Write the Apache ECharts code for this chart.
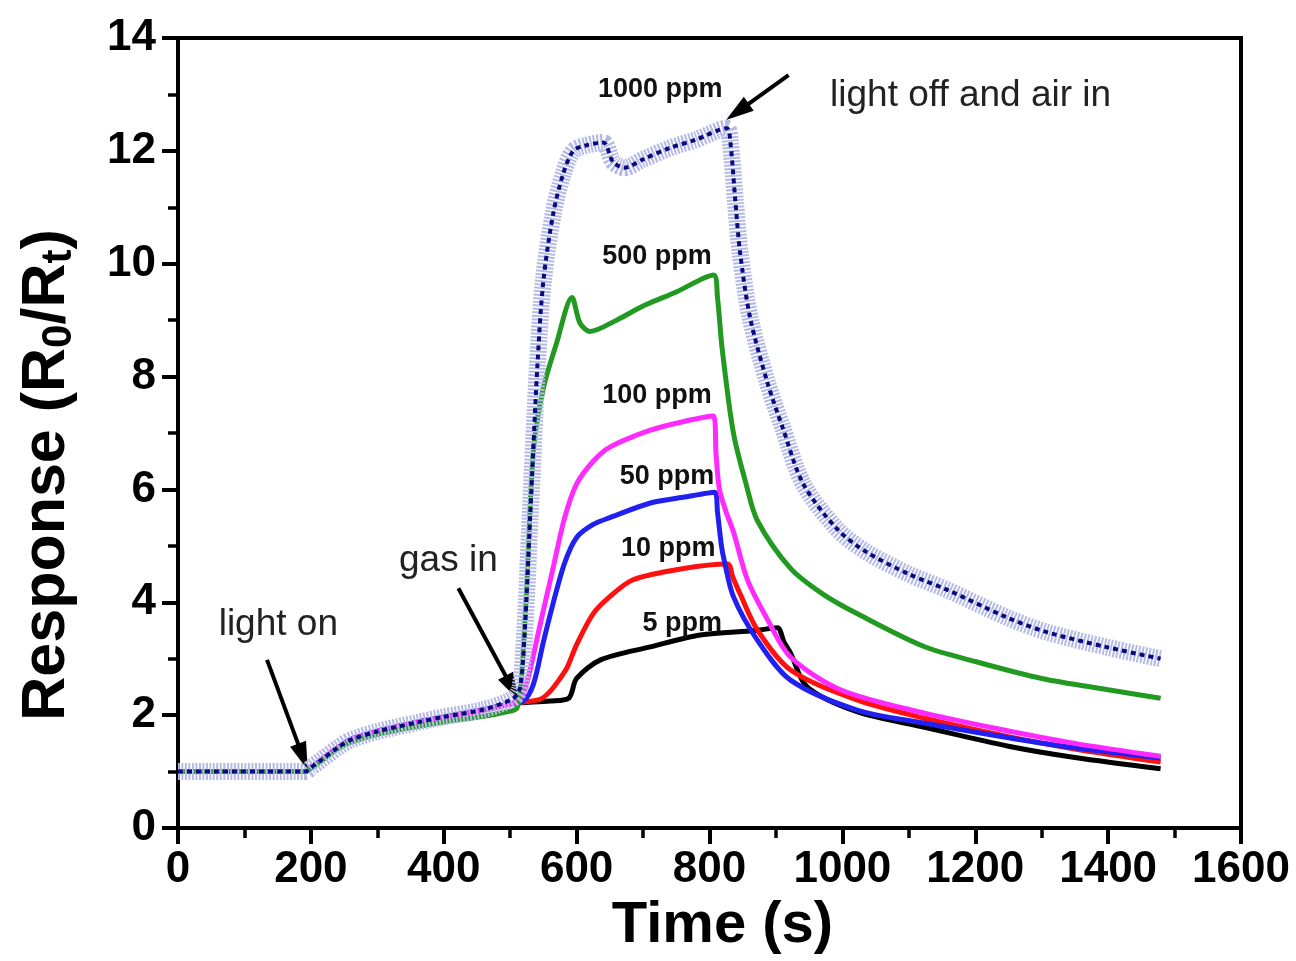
<!DOCTYPE html>
<html><head><meta charset="utf-8">
<script src="https://cdn.jsdelivr.net/npm/echarts@6/dist/echarts.min.js"></script>
<style>html,body{margin:0;padding:0;background:#fff}#c{width:1296px;height:961px}</style>
</head><body><div id="c"></div>
<script>
// ---- tick labels ----
const xTicks = [0,200,400,600,800,1000,1200,1400,1600];
const yTicks = [0,2,4,6,8,10,12,14];

// ---- series data: [time (s), response] ----
const ppm5 = [[0,1.0],[192,1.0],[200,1.07],[215,1.2],[240,1.42],[260,1.56],[300,1.71],[360,1.87],[400,1.96],[460,2.09],[500,2.2],[560,2.25],[588,2.3],[600,2.65],[636,2.98],[711,3.21],[786,3.42],[870,3.5],[902,3.55],[912,3.3],[922,3.1],[947,2.5],[1022,2.06],[1122,1.79],[1250,1.45],[1350,1.25],[1479,1.05]];
const ppm10 = [[0,1.0],[192,1.0],[200,1.07],[215,1.2],[240,1.42],[260,1.56],[300,1.71],[360,1.87],[400,1.96],[460,2.09],[500,2.2],[545,2.28],[560,2.42],[575,2.65],[586,2.85],[600,3.25],[625,3.8],[650,4.1],[685,4.4],[761,4.6],[827,4.68],[835,4.45],[846,4.15],[872,3.51],[922,2.8],[1022,2.27],[1122,1.95],[1250,1.62],[1350,1.4],[1479,1.17]];
const ppm50 = [[0,1.0],[192,1.0],[200,1.07],[215,1.2],[240,1.42],[260,1.57],[300,1.72],[360,1.88],[400,1.97],[460,2.1],[500,2.2],[520,2.25],[535,2.55],[550,3.3],[565,4.0],[582,4.7],[600,5.15],[625,5.38],[650,5.5],[711,5.76],[760,5.86],[808,5.95],[812,5.6],[818,5.0],[822,4.75],[836,4.1],[872,3.33],[922,2.62],[1022,2.09],[1122,1.86],[1250,1.6],[1350,1.42],[1479,1.24]];
const ppm100 = [[0,1.0],[192,1.0],[200,1.07],[215,1.2],[240,1.42],[260,1.56],[300,1.71],[360,1.87],[400,1.96],[460,2.09],[500,2.2],[515,2.3],[525,2.57],[545,3.6],[565,4.63],[582,5.5],[600,6.1],[625,6.5],[650,6.75],[711,7.05],[760,7.2],[806,7.3],[810,6.6],[815,6.0],[825,5.6],[836,5.25],[857,4.4],[887,3.7],[922,3.03],[997,2.45],[1122,2.04],[1250,1.72],[1350,1.5],[1479,1.27]];
const ppm500 = [[0,1.0],[192,1.0],[200,1.06],[215,1.18],[240,1.4],[260,1.52],[300,1.66],[360,1.8],[400,1.88],[460,1.98],[495,2.06],[510,2.12],[516,2.5],[525,4.3],[535,6.7],[550,7.8],[570,8.6],[593,9.4],[605,8.95],[620,8.8],[660,9.0],[700,9.25],[750,9.5],[806,9.8],[812,9.4],[819,8.5],[836,7.0],[855,6.1],[872,5.45],[922,4.6],[970,4.15],[1022,3.8],[1122,3.22],[1200,2.95],[1300,2.65],[1400,2.45],[1479,2.3]];
const ppm1000 = [[0,1.0],[192,1.0],[200,1.07],[215,1.2],[240,1.42],[260,1.56],[300,1.71],[360,1.87],[400,1.97],[460,2.1],[505,2.3],[515,2.5],[522,3.5],[530,5.5],[541,8.2],[550,9.7],[565,10.9],[580,11.6],[595,12.0],[615,12.1],[640,12.15],[655,11.8],[672,11.7],[700,11.85],[740,12.05],[780,12.2],[826,12.4],[831,12.2],[839,11.1],[846,10.2],[861,9.05],[887,7.9],[910,7.1],[941,6.1],[992,5.3],[1035,4.9],[1100,4.5],[1158,4.22],[1250,3.72],[1308,3.47],[1400,3.2],[1479,3.0]];

// ---- annotations (data-space anchors) ----
const labelTexts = ['1000 ppm','500 ppm','100 ppm','50 ppm','10 ppm','5 ppm'];
const labelAnchors = [[726,13.08],[721,10.12],[721,7.66],[736,6.22],[738,4.96],[759,3.63]];
const noteTexts = ['light off and air in','gas in','light on'];
const noteAnchors = [[1193,12.97],[407,4.73],[151,3.6]];
const arrows = [[[919,13.34],[842,12.69]],[[422,4.25],[503,2.48]],[[134,2.98],[188,1.26]]];

const FF = '"Liberation Sans", Arial, sans-serif';
const SMOOTH = 0.3;
const chart = echarts.init(document.getElementById('c'), null, {renderer:'canvas'});

function lineSeries(name, data, color, z){
  return {name, type:'line', data, z, showSymbol:false, smooth:SMOOTH, clip:false,
    lineStyle:{color, width:5}, itemStyle:{color}, emphasis:{disabled:true}, silent:true};
}

const markPointData = [];
labelTexts.forEach((t,i)=>markPointData.push({coord:labelAnchors[i],
  label:{formatter:t, fontSize:27, fontWeight:'bold', color:'#111', fontFamily:FF}}));
noteTexts.forEach((t,i)=>markPointData.push({coord:noteAnchors[i],
  label:{formatter:t, fontSize:37, fontWeight:'normal', color:'#222', fontFamily:FF}}));

const black = lineSeries('5 ppm', ppm5, '#000000', 3);
black.markPoint = {symbol:'rect', symbolSize:1, itemStyle:{color:'rgba(0,0,0,0)'}, silent:true,
  label:{show:true, position:'inside'}, data: markPointData};
black.markLine = {symbol:['none','triangle'], symbolSize:[17,28], silent:true,
  lineStyle:{color:'#000', width:4, type:'solid'}, label:{show:false},
  data: arrows.map(a=>[{coord:a[0]},{coord:a[1]}])};

const plainNum = v => String(v);

const option = {
  animation:false,
  backgroundColor:'#fff',
  grid:{left:178, right:55, top:38, bottom:133, show:true, borderColor:'#000', borderWidth:4, backgroundColor:'transparent'},
  xAxis:{type:'value', min:xTicks[0], max:xTicks[xTicks.length-1], interval:xTicks[1]-xTicks[0],
    name:'Time (s)', nameLocation:'middle', nameGap:58,
    nameTextStyle:{fontSize:58, fontWeight:'bold', color:'#000', fontFamily:FF, padding:[0,0,0,26]},
    axisLine:{show:true, lineStyle:{color:'#000', width:4}},
    axisTick:{show:true, length:16, lineStyle:{width:4, color:'#000'}},
    minorTick:{show:true, splitNumber:2, length:10, lineStyle:{width:3.5, color:'#000'}},
    splitLine:{show:false}, minorSplitLine:{show:false},
    axisLabel:{fontSize:44, fontWeight:'bold', color:'#000', margin:20, fontFamily:FF, formatter:plainNum}},
  yAxis:{type:'value', min:yTicks[0], max:yTicks[yTicks.length-1], interval:yTicks[1]-yTicks[0],
    name:'{a|Response (R}{s|0}{a|/R}{s|t}{a|)}', nameLocation:'middle', nameGap:98, nameRotate:90,
    nameTextStyle:{padding:[0,84,0,0], rich:{
      a:{fontSize:61, fontWeight:'bold', color:'#000', fontFamily:FF, lineHeight:66},
      s:{fontSize:42, fontWeight:'bold', color:'#000', fontFamily:FF, lineHeight:40, verticalAlign:'bottom'}}},
    axisLine:{show:true, lineStyle:{color:'#000', width:4}},
    axisTick:{show:true, length:16, lineStyle:{width:4, color:'#000'}},
    minorTick:{show:true, splitNumber:2, length:10, lineStyle:{width:3.5, color:'#000'}},
    splitLine:{show:false}, minorSplitLine:{show:false},
    axisLabel:{fontSize:44, fontWeight:'bold', color:'#000', margin:22, fontFamily:FF, formatter:plainNum}},
  series:[
    black,
    lineSeries('10 ppm', ppm10, '#ff1010', 4),
    lineSeries('50 ppm', ppm50, '#2020f0', 5),
    lineSeries('100 ppm', ppm100, '#ff2aff', 6),
    lineSeries('500 ppm', ppm500, '#229a22', 7),
    {name:'1000 ppm band', type:'line', data:ppm1000, z:8, showSymbol:false, smooth:SMOOTH, silent:true,
      lineStyle:{color:'#b4b9e6', width:17, type:[2,1.5]}, emphasis:{disabled:true}},
    {name:'1000 ppm', type:'line', data:ppm1000, z:9, showSymbol:false, smooth:SMOOTH, silent:true,
      lineStyle:{color:'#0a0a80', width:4, type:[5,4]}, emphasis:{disabled:true}}
  ]
};
chart.setOption(option);
</script></body></html>
